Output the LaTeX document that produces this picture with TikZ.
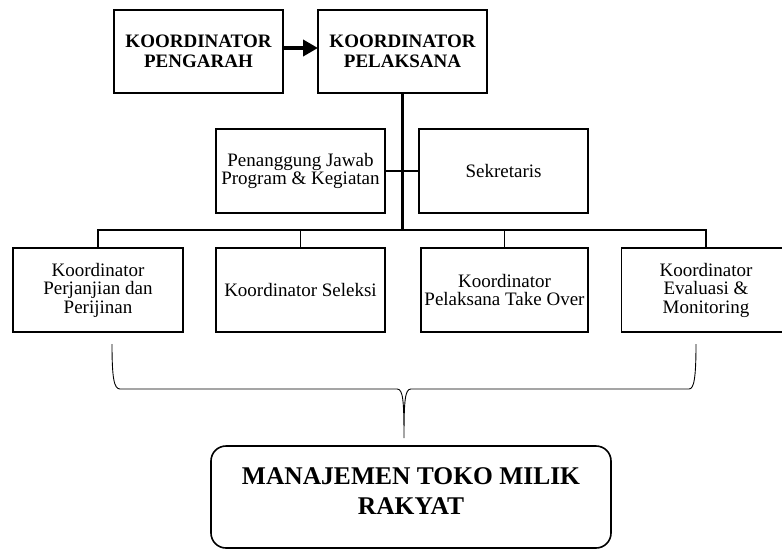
\documentclass[tikz,border=0pt]{standalone}
\usepackage{fontspec}
\setmainfont{Liberation Serif}
\usetikzlibrary{arrows.meta}

\begin{document}
\begin{tikzpicture}[x=1pt, y=-1pt, every node/.style={draw, minimum width=169pt, minimum height=84pt, outer sep=0pt, inner sep=0pt, align=center, line width=1.4pt}, line join=miter, line cap=rect,
    topbox/.style={minimum height=83pt, font=\bfseries\fontsize{19}{19.5}\selectfont},
    subbox/.style={font=\fontsize{19}{18.5}\selectfont},
    trunk/.style={line width=2.4pt},
    branch/.style={line width=1.4pt},
    side/.style={line width=1.2pt},
    mainbox/.style={rounded corners=15pt, minimum width=400pt, minimum height=102pt, line width=1.6pt, font=\bfseries\fontsize{25.5}{30}\selectfont}]
        \useasboundingbox (0, 0) rectangle (782, 550);
        \clip (0, 0) rectangle (782, 550);
        \node[topbox] (pengarah) at (198.5, 51.5) {KOORDINATOR\\PENGARAH};
        \node[topbox] (pelaksana) at (402.5, 51.5) {KOORDINATOR\\PELAKSANA};
        \node[subbox] (pj) at (300.5, 171) {Penanggung Jawab\\Program \& Kegiatan};
        \node[subbox] (sekretaris) at (503.5, 171) {Sekretaris};
        \node[subbox, minimum width=170pt] (perjanjian) at (98, 290) {Koordinator\\Perjanjian dan\\Perijinan};
        \node[subbox] (seleksi) at (300.5, 290) {Koordinator Seleksi};
        \node[subbox, minimum width=167pt] (takeover) at (504.5, 290) {Koordinator\\Pelaksana Take Over};
        \node[subbox] (evaluasi) at (706, 290) {Koordinator\\Evaluasi \&\\Monitoring};
        \node[mainbox] (tokomilik) at (411, 497) {MANAJEMEN TOKO MILIK\\RAKYAT\\[-18pt]\mbox{}};

        \draw[-{Triangle[length=15pt, width=16pt]}, line width=4pt, line cap=butt] ([yshift=3.5pt]pengarah.east) -- ([yshift=3.5pt]pelaksana.west);
        \coordinate (hub) at (402.5, 230);
        \draw[trunk] (pelaksana.south) -- (hub);
        \draw[side] (pj.east) -- (sekretaris.west);
        \draw[branch] (perjanjian.north) |- (hub) -| (evaluasi.north);
        \draw[branch] (seleksi.north) -- (seleksi.north |- hub);
        \draw[branch] (takeover.north) -- (takeover.north |- hub);

        % brace
        \coordinate (bracetip) at (404, 438);
        \draw[line width=0.9pt, line cap=butt] (112, 344) .. controls (112, 378) and (114, 389) .. (120, 389) -- (397, 389) .. controls (403, 389) and (404, 400) .. (bracetip) .. controls (404, 400) and (405, 389) .. (411, 389) -- (689, 389) .. controls (694, 389) and (696, 378) .. (696, 344);
    \end{tikzpicture}
\end{document}
